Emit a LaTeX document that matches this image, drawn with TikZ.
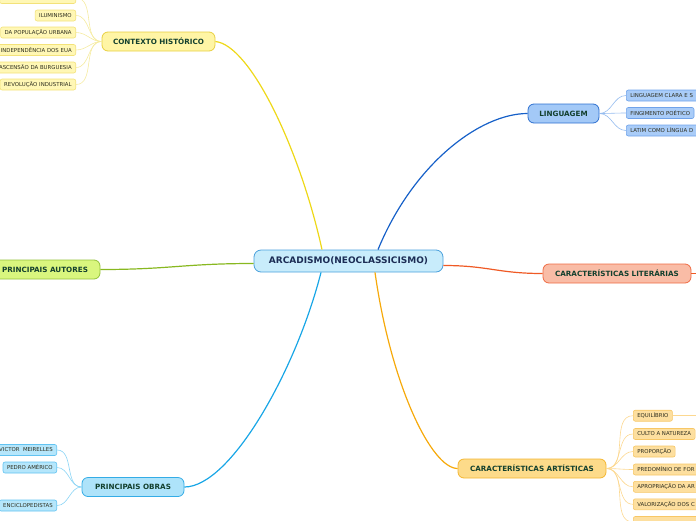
\documentclass[tikz,border=0pt]{standalone}
\usepackage{fontspec}
\setmainfont{DejaVu Sans}
\usetikzlibrary{positioning}
\definecolor{raizf}{HTML}{C8ECFB}
\definecolor{raizb}{HTML}{4AA0DC}
\definecolor{raizt}{HTML}{1C2D55}
\definecolor{ramot}{HTML}{13402E}
\definecolor{folhat}{HTML}{2E2E1E}
\definecolor{ctxf}{HTML}{FFF5A5}
\definecolor{ctxb}{HTML}{E8D040}
\definecolor{ctxl}{HTML}{EED818}
\definecolor{ctxff}{HTML}{FFF7B5}
\definecolor{ctxfb}{HTML}{F3E27A}
\definecolor{ctxfl}{HTML}{F5EBA0}
\definecolor{lingf}{HTML}{A3C9F7}
\definecolor{lingb}{HTML}{2E70D0}
\definecolor{lingl}{HTML}{1660C8}
\definecolor{lingff}{HTML}{A9CCF8}
\definecolor{lingfb}{HTML}{70A3EA}
\definecolor{lingfl}{HTML}{95BCEF}
\definecolor{litf}{HTML}{F9BCA6}
\definecolor{litb}{HTML}{EF6C45}
\definecolor{litl}{HTML}{EF5A25}
\definecolor{autf}{HTML}{D9F67E}
\definecolor{autb}{HTML}{93C23A}
\definecolor{autl}{HTML}{88B820}
\definecolor{obrf}{HTML}{AEE3FA}
\definecolor{obrb}{HTML}{34ACE6}
\definecolor{obrl}{HTML}{18A6E6}
\definecolor{obrff}{HTML}{B5E6FB}
\definecolor{obrfb}{HTML}{62C3F1}
\definecolor{obrfl}{HTML}{8AD4F5}
\definecolor{artf}{HTML}{FDDB8A}
\definecolor{artb}{HTML}{F4B630}
\definecolor{artl}{HTML}{F6A90A}
\definecolor{artff}{HTML}{FDDF9F}
\definecolor{artfb}{HTML}{F7C766}
\definecolor{artfl}{HTML}{FCD890}
\tikzset{
  raiz/.style = {draw=raizb, fill=raizf, text=raizt, rounded corners=7pt,
    line width=0.8pt, minimum width=189pt, minimum height=22pt,
    font=\fontsize{9}{11}\selectfont\bfseries},
  ramo/.style = {rounded corners=6pt, line width=0.8pt, minimum height=19pt,
    text=ramot, font=\fontsize{7.2}{9}\selectfont\bfseries},
  folha/.style = {rounded corners=2pt, line width=0.6pt, minimum height=11pt,
    inner xsep=4pt, inner ysep=0pt, text=folhat,
    font=\fontsize{5.4}{6.5}\selectfont},
  corta/.style = {text width=80pt, align=left},
  lig/.style = {line width=1.2pt},
  ligf/.style = {line width=0.6pt}
}
\begin{document}
\begin{tikzpicture}[x=1pt, y=-1pt]
  \useasboundingbox (0,0) rectangle (696,520);
  \node [raiz] (raiz) at (348.5,261) {ARCADISMO(NEOCLASSICISMO)};
  \node [ramo, draw=ctxb, fill=ctxf, minimum width=113pt] (ctx) at (158.5,41.5) {CONTEXTO HISTÓRICO};
  \node [ramo, draw=lingb, fill=lingf, minimum width=71pt] (ling) at (563.5,113.5) {LINGUAGEM};
  \node [ramo, draw=litb, fill=litf, minimum width=148pt] (lit) at (617,273.5) {CARACTERÍSTICAS LITERÁRIAS};
  \node [ramo, draw=autb, fill=autf, minimum width=110pt] (aut) at (45,269.5) {PRINCIPAIS AUTORES};
  \node [ramo, draw=obrb, fill=obrf, minimum width=102pt] (obr) at (133,487) {PRINCIPAIS OBRAS};
  \node [ramo, draw=artb, fill=artf, minimum width=148pt] (art) at (532,468.5) {CARACTERÍSTICAS ARTÍSTICAS};
  \draw [lig, draw=ctxl] ([xshift=-26.5pt]raiz.north) .. controls +(-22,-100) and +(35,3.5) .. (ctx.east);
  \draw [lig, draw=lingl] ([xshift=29.5pt]raiz.north) .. controls +(35,-85) and +(-48,0) .. (ling.west);
  \draw [lig, draw=litl] ([yshift=-4.5pt]raiz.east) .. controls +(45,0) and +(-45,0) .. (lit.west);
  \draw [lig, draw=autl] ([yshift=-2.5pt]raiz.west) .. controls +(-70,0) and +(70,0) .. (aut.east);
  \draw [lig, draw=obrl] ([xshift=-27.5pt]raiz.south) .. controls +(-25,98) and +(46,0) .. (obr.east);
  \draw [lig, draw=artl] ([xshift=26.5pt]raiz.south) .. controls +(16,113) and +(-26,0) .. (art.west);
  \coordinate (litfim) at (720,273.5);
  \draw [lig, draw=litl] (lit.east) -- (litfim);
  \node [folha, draw=ctxfb, fill=ctxff, anchor=east, minimum width=76pt] (ctx0) at (76,-2) {};
  \node [folha, draw=ctxfb, fill=ctxff, anchor=east] (ctx1) at (76,15.5) {ILUMINISMO};
  \node [folha, draw=ctxfb, fill=ctxff, anchor=east] (ctx2) at (76,32.5) {DA POPULAÇÃO URBANA};
  \node [folha, draw=ctxfb, fill=ctxff, anchor=east] (ctx3) at (76,50) {INDEPENDÊNCIA DOS EUA};
  \node [folha, draw=ctxfb, fill=ctxff, anchor=east] (ctx4) at (76,67.5) {ASCENSÃO DA BURGUESIA};
  \node [folha, draw=ctxfb, fill=ctxff, anchor=east] (ctx5) at (76,84.5) {REVOLUÇÃO INDUSTRIAL};
  \foreach \f in {ctx0,ctx1,ctx2,ctx3,ctx4,ctx5}
    \draw [ligf, draw=ctxfl] (ctx.west) to[out=180, in=0] (\f.east);
  \node [folha, draw=lingfb, fill=lingff, corta, anchor=west] (ling1) at (626,95.5) {LINGUAGEM CLARA E S};
  \node [folha, draw=lingfb, fill=lingff, anchor=west] (ling2) at (626,113) {FINGIMENTO POÉTICO};
  \node [folha, draw=lingfb, fill=lingff, corta, anchor=west] (ling3) at (626,130.5) {LATIM COMO LÍNGUA D};
  \foreach \f in {ling1,ling2,ling3}
    \draw [ligf, draw=lingfl] (ling.east) to[out=0, in=180] (\f.west);
  \node [folha, draw=obrfb, fill=obrff, anchor=east] (obr1) at (57,450) {VICTOR~ MEIRELLES};
  \node [folha, draw=obrfb, fill=obrff, anchor=east] (obr2) at (57,467.5) {PEDRO AMÉRICO};
  \node [folha, draw=obrfb, fill=obrff, anchor=east] (obr3) at (57,505.5) {ENCICLOPEDISTAS};
  \foreach \f in {obr1,obr2,obr3}
    \draw [ligf, draw=obrfl] (obr.west) to[out=180, in=0] (\f.east);
  \node [folha, draw=artfb, fill=artff, anchor=west] (art1) at (633,415.7) {EQUILÍBRIO};
  \node [folha, draw=artfb, fill=artff, anchor=west] (art2) at (633,434) {CULTO A NATUREZA};
  \node [folha, draw=artfb, fill=artff, anchor=west] (art3) at (633,451.5) {PROPORÇÃO};
  \node [folha, draw=artfb, fill=artff, corta, anchor=west] (art4) at (633,469.5) {PREDOMÍNIO DE FOR};
  \node [folha, draw=artfb, fill=artff, corta, anchor=west] (art5) at (633,486.8) {APROPRIAÇÃO DA AR};
  \node [folha, draw=artfb, fill=artff, corta, anchor=west] (art6) at (633,504.3) {VALORIZAÇÃO DOS C};
  \node [folha, draw=artfb, fill=artff, corta, anchor=west] (art7) at (633,522) {};
  \foreach \f in {art1,art2,art3,art4,art5,art6,art7}
    \draw [ligf, draw=artfl] (art.east) to[out=0, in=180] (\f.west);
  \coordinate (art1fim) at (720,415.7);
  \draw [ligf, draw=artfl] (art1.east) -- (art1fim);
\end{tikzpicture}
\end{document}
